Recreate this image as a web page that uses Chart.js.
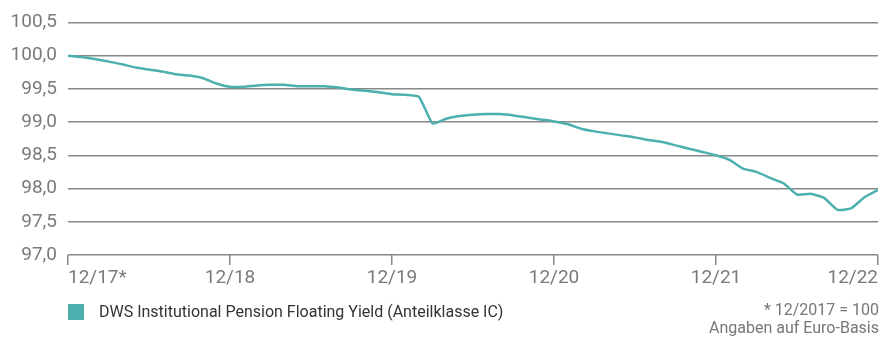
<!DOCTYPE html>
<html>
<head>
<meta charset="utf-8">
<script src="https://cdn.jsdelivr.net/npm/chart.js@4"></script>
<style>
  html, body { margin: 0; padding: 0; background: #fff; }
  #wrap { position: relative; width: 880px; height: 338px; font-family: Roboto, sans-serif; }
  #legend { position: absolute; left: 68px; top: 303px; height: 17px; display: flex; align-items: center; color: #333; font-size: 16px; }
  #legend .box { width: 16px; height: 16px; background: #4db0ae; margin-right: 15px; }
  #note { position: absolute; right: 1px; top: 301px; text-align: right; color: #777; font-size: 16px; line-height: 18px; }
</style>
</head>
<body>
<div id="wrap">
  <canvas id="chart" width="880" height="338"></canvas>
  <div id="legend"><span class="box"></span><span>DWS Institutional Pension Floating Yield (Anteilklasse IC)</span></div>
  <div id="note">* 12/2017 = 100<br>Angaben auf Euro-Basis</div>
</div>
<script>
// month index since 12/2017, one value per month-end
const seriesName = 'DWS Institutional Pension Floating Yield (Anteilklasse IC)';
const values = [
  100.00, 99.98, 99.95, 99.91, 99.87, 99.82, 99.79, 99.76, 99.72, 99.70, 99.66, 99.58,
  99.53, 99.53, 99.55, 99.56, 99.56, 99.54, 99.54, 99.54, 99.52, 99.49, 99.47, 99.45,
  99.42, 99.41, 99.38, 98.98, 99.05, 99.09, 99.11, 99.12, 99.12, 99.10, 99.07, 99.04,
  99.01, 98.97, 98.90, 98.86, 98.83, 98.80, 98.77, 98.73, 98.70, 98.65, 98.60, 98.55,
  98.50, 98.43, 98.30, 98.25, 98.16, 98.08, 97.91, 97.92, 97.86, 97.68, 97.70, 97.87,
  97.98
];
const xTickLabels = ['12/17*', '12/18', '12/19', '12/20', '12/21', '12/22'];
const yMin = 97.0, yMax = 100.5, yStep = 0.5;

const lineColor = '#4db0ae';
const gridColor = '#888888';
const textColor = '#7a7a7a';

const points = values.map((v, i) => ({ x: i, y: v }));

new Chart(document.getElementById('chart').getContext('2d'), {
  type: 'line',
  data: {
    datasets: [{
      label: seriesName,
      data: points,
      borderColor: lineColor,
      backgroundColor: lineColor,
      borderWidth: 2.5,
      pointRadius: 0,
      tension: 0.15
    }]
  },
  options: {
    responsive: false,
    animation: false,
    layout: { padding: { top: 22, right: 1, bottom: 43, left: 0 } },
    plugins: {
      legend: { display: false },
      tooltip: { enabled: false }
    },
    scales: {
      x: {
        type: 'linear',
        min: 0,
        max: 60,
        afterFit: s => { s.height = 40; },
        afterBuildTicks: s => {
          s.ticks = xTickLabels.map((_, i) => ({ value: i * 12 }));
        },
        border: { display: false },
        grid: {
          drawOnChartArea: false,
          drawTicks: true,
          tickLength: 10,
          color: gridColor,
          lineWidth: 1.5
        },
        ticks: {
          align: 'inner',
          maxRotation: 0,
          autoSkip: false,
          padding: 2,
          color: textColor,
          font: { family: 'Roboto', size: 19 },
          callback: v => xTickLabels[v / 12]
        }
      },
      y: {
        min: yMin,
        max: yMax,
        afterFit: s => { s.width = 68; },
        border: { display: false },
        grid: {
          drawTicks: false,
          color: gridColor,
          lineWidth: 1.5
        },
        ticks: {
          stepSize: yStep,
          padding: 11,
          color: textColor,
          font: { family: 'Roboto', size: 19 },
          callback: v => v.toFixed(1).replace('.', ',')
        }
      }
    }
  }
});
</script>
</body>
</html>
